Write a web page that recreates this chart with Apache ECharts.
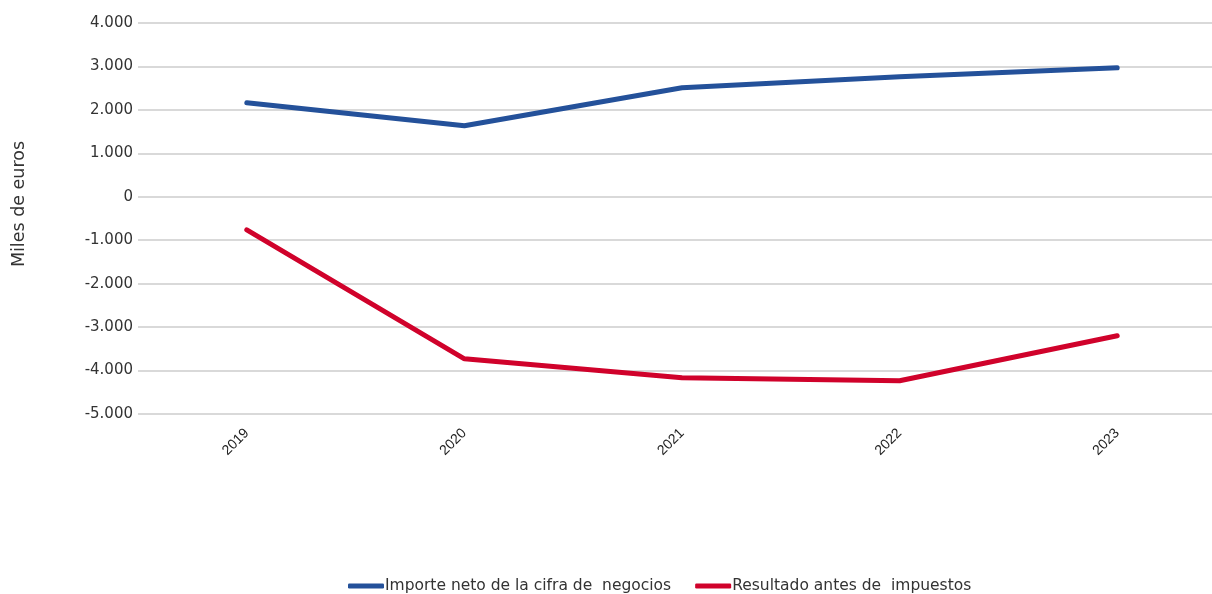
<!DOCTYPE html>
<html><head><meta charset="utf-8">
<script src="https://cdn.jsdelivr.net/npm/echarts@6/dist/echarts.min.js"></script>
<style>html,body{margin:0;padding:0;background:#fff;overflow:hidden}#c{width:1226px;height:594px}</style>
</head><body><div id="c"></div>
<script>
const categories = ['2019','2020','2021','2022','2023'];
const importeNeto = [2164, 1634, 2509, 2762, 2970];
const resultadoAntes = [-760, -3729, -4167, -4236, -3200];
const seriesNames = ['Importe neto de la cifra de  negocios', 'Resultado antes de  impuestos'];
const yTitle = 'Miles de euros';
const font = 'DejaVu Sans';
const chart = echarts.init(document.getElementById('c'));
chart.setOption({
  animation: false,
  grid: {left: 138, right: 0, top: 23, bottom: 180},
  graphic: [{
    type: 'text', x: 19, y: 204, rotation: Math.PI / 2,
    style: {text: yTitle, fontFamily: font, fontSize: 17.5, fill: '#333', textAlign: 'center', textVerticalAlign: 'middle'}
  }],
  legend: {
    top: 573, left: 343, itemWidth: 36, itemHeight: 5, itemGap: 24,
    icon: 'roundRect',
    textStyle: {fontFamily: font, fontSize: 15.5, color: '#333', padding: [0,0,0,-4]},
    data: seriesNames
  },
  xAxis: {
    type: 'category', data: categories, boundaryGap: true,
    axisLine: {show: false}, axisTick: {show: false},
    axisLabel: {rotate: 45, fontFamily: 'Liberation Sans', fontSize: 14, color: '#222', margin: 17}
  },
  yAxis: {
    type: 'value', min: -5000, max: 4000, interval: 1000,
    axisLine: {show: false}, axisTick: {show: false},
    splitLine: {lineStyle: {color: '#d9d9d9', width: 2}},
    axisLabel: {
      fontFamily: font, fontSize: 15, color: '#333', margin: 5,
      formatter: v => v === 0 ? '0' : (v < 0 ? '-' : '') + Math.abs(v).toLocaleString('de-DE')
    }
  },
  series: [
    {name: seriesNames[0], type: 'line', data: importeNeto, symbol: 'none',
     lineStyle: {width: 5, color: '#24519a', cap: 'round'}, itemStyle: {color: '#24519a'}},
    {name: seriesNames[1], type: 'line', data: resultadoAntes, symbol: 'none',
     lineStyle: {width: 5, color: '#d0022b', cap: 'round'}, itemStyle: {color: '#d0022b'}}
  ]
});
</script></body></html>
